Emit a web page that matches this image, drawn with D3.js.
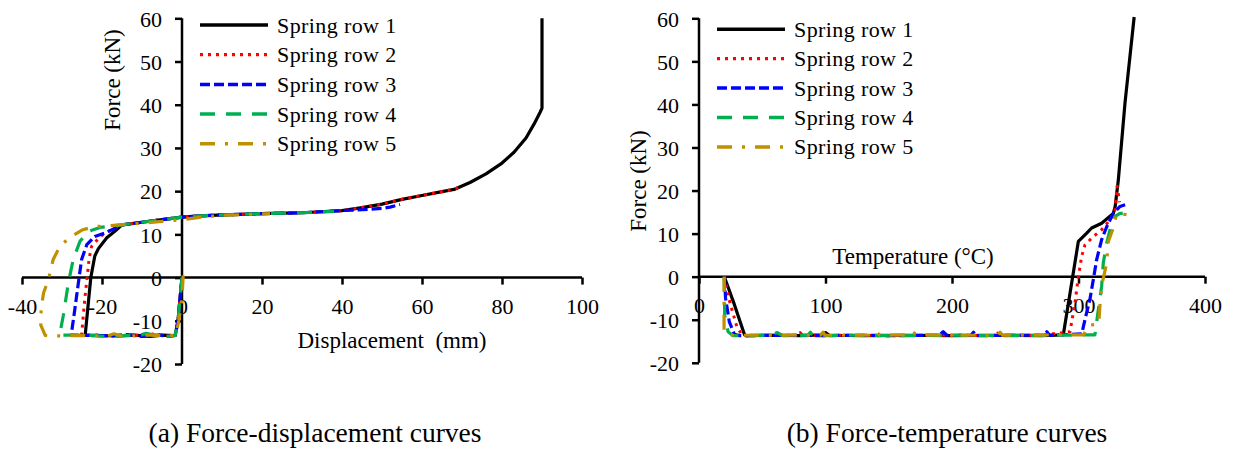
<!DOCTYPE html>
<html>
<head>
<meta charset="utf-8">
<script src="https://cdn.jsdelivr.net/npm/d3@7"></script>
<style>
  html, body { margin: 0; padding: 0; background: #fff; }
  svg { display: block; font-family: "Liberation Serif", "Times New Roman", serif; }
</style>
</head>
<body>
<svg id="chart" width="1236" height="449"></svg>
<script>
// ---------- data ----------
const seriesNames = ["Spring row 1", "Spring row 2", "Spring row 3", "Spring row 4", "Spring row 5"];

// (a) force-displacement: [displacement (mm), force (kN)]
const dispRow1 = [[0,0],[-0.5,-5],[-1,-10],[-1.7,-13.4],[-5,-13.3],[-8,-13.6],[-12,-13.3],[-16,-13.5],[-20,-13.4],[-24.2,-13.3],
  [-22.8,0],[-21.8,5],[-20.9,6.7],[-18.8,9.2],[-16.8,10.7],[-15,12.2],[-10,12.8],[-5,13.4],[0,14.0],[5,14.3],[10,14.5],[20,14.8],
  [30,15.0],[40,15.5],[45,16.2],[50,17.0],[55,18.1],[60,19.0],[65,19.9],[68,20.4],[72,22],[76,24],[80,26.5],[83,29],[86,32.3],
  [88,35.5],[89.5,38.2],[90,39.2],[90,60]];
const dispRow2 = [[0,0],[-0.5,-5],[-1,-10],[-1.7,-13.4],[-4,-13.5],[-7,-13.0],[-9,-13.5],[-13,-13.3],[-17,-13.6],[-21,-13.3],[-25.1,-13.3],
  [-24.6,-8],[-24.2,-4],[-23.6,1],[-23.2,4.5],[-22.6,7.2],[-20.5,9.5],[-18.4,10.7],[-16,11.9],[-15,12.2],[-10,12.8],[-5,13.4],
  [0,14.0],[5,14.3],[10,14.5],[20,14.8],[30,15.0],[40,15.5],[45,16.2],[50,17.0],[55,18.1],[60,19.0],[65,19.9],[68,20.4],[69.5,21.1]];
const dispRow3 = [[0,0],[-0.5,-5],[-1,-10],[-1.7,-13.4],[-3,-13.6],[-6,-13.3],[-10,-13.6],[-14,-13.2],[-18,-13.5],[-23,-13.4],[-27.7,-13.3],
  [-26.8,-7.4],[-25.9,-1.2],[-25.1,4.2],[-23.8,7.6],[-21.8,9.5],[-19.3,10.3],[-17,11.3],[-15,12.2],[-10,12.8],[-5,13.4],
  [0,14.0],[5,14.3],[10,14.5],[20,14.8],[30,15.0],[40,15.5],[45,15.7],[50,16.0],[52,16.3],[54.5,16.9]];
const dispRow4 = [[0,0],[-0.5,-5],[-1,-10],[-1.7,-13.4],[-3.5,-13.6],[-6,-13.5],[-9,-12.9],[-11,-13.5],[-15,-13.4],[-19,-13.6],[-25,-13.3],[-30.6,-13.3],
  [-29.7,-8.9],[-28.4,-1.2],[-27.2,4.2],[-25.5,8.4],[-23.4,10.7],[-20.5,11.6],[-15,12.2],[-10,12.8],[-5,13.4],
  [0,14.0],[5,14.3],[10,14.5],[20,14.8],[30,15.0],[38,15.3]];
const dispRow5 = [[0.3,0.5],[0,-5],[-0.8,-10],[-1.6,-13.4],[-4,-13.5],[-8,-13.3],[-15,-13.6],[-17,-13.0],[-19,-13.6],[-25,-13.4],[-30,-13.5],[-34.2,-13.4],
  [-35.3,-11],[-35.2,-7],[-34.6,-3.5],[-33.4,-0.5],[-32.2,4.2],[-30.5,7.3],[-28,9.3],[-25,11],[-22,11.8],[-18,12.0],[-10,12.6],
  [-5,13.0],[0,13.4],[5,14.0],[10,14.4],[16,14.6],[22,14.8]];

// (b) force-temperature: [temperature (°C), force (kN)]
const tempRow1 = [[20,0],[28,-6.5],[36,-13.5],[38,-13.7],[60,-13.6],[80,-13.7],[97,-13.5],[100,-13.0],[103,-13.6],[130,-13.7],
  [160,-13.6],[200,-13.7],[240,-13.6],[270,-13.7],[288,-13.5],[299.9,8.2],[306.5,10.1],[310.4,11.3],[318.3,12.4],[327.5,14.7],
  [329,16.3],[331.5,22.5],[336.8,40.5],[344,60.3]];
const tempRow2 = [[20,0],[24.5,-6.1],[29.8,-11.5],[33.7,-13.4],[36,-13.7],[60,-13.6],[78,-13.6],[80,-13.0],[82,-13.7],[120,-13.6],
  [150,-13.7],[200,-13.6],[234,-13.7],[236,-13.1],[238,-13.7],[270,-13.6],[293.3,-12.8],[297.2,-6.1],[299.9,0],[302.5,4.7],
  [305.1,7.4],[311.7,9.3],[318.3,10.9],[324.9,13.2],[328.9,15.5],[330.5,21],[332.5,17.3]];
const tempRow3 = [[20,0],[21,-5],[24,-10.5],[28,-13.4],[32,-13.7],[70,-13.6],[100,-13.7],[120,-13.6],[150,-13.7],[190,-13.6],
  [193,-12.8],[196,-13.6],[215,-13.6],[217,-12.9],[219,-13.7],[250,-13.6],[273,-13.6],[275,-12.8],[277,-13.6],[302.5,-13.3],
  [305.1,-10],[309,-5.3],[311.7,-0.7],[314.3,3.9],[318.3,8.6],[322.3,11.6],[327.5,14.7],[332.8,16.3],[338,16.8]];
const tempRow4 = [[20,0],[20.3,-9],[23,-12.8],[27,-13.7],[55,-13.6],[62,-13.0],[66,-13.7],[86,-13.6],[88,-12.9],[90,-13.7],
  [120,-13.6],[160,-13.7],[200,-13.6],[240,-13.7],[280,-13.6],[313,-13.5],[315.7,-7.6],[318.3,-2.2],[319.6,3.2],[322.3,7.8],
  [324.9,10.9],[328.9,14],[332.8,14.7],[335,14.7]];
const tempRow5 = [[19.8,0],[19.8,-12.7],[23,-13.6],[60,-13.6],[96,-13.6],[98,-12.9],[100,-13.6],[138,-13.6],[140,-12.8],[143,-13.6],
  [164,-13.5],[168,-12.6],[172,-13.5],[200,-13.6],[203,-12.8],[206,-13.6],[236,-13.6],[238,-12.9],[240,-13.6],[304,-13.5],
  [308,-11.3],[316,-11],[317,-6.5],[318.5,-1.9],[322.3,3.2],[323.6,8.2],[327.5,11.3],[330.2,14.7],[338,14.4]];

const forceTicks = [-20, -10, 0, 10, 20, 30, 40, 50, 60];
const dispTicks = [-40, -20, 0, 20, 40, 60, 80, 100];
const tempTicks = [0, 100, 200, 300, 400];

// ---------- styles ----------
const serif = "Liberation Serif, Times New Roman, serif";
const lineStyles = [
  { color: "#000000", dash: null,          width: 3.2 },
  { color: "#FF0000", dash: "3,5",         width: 3 },
  { color: "#0000FF", dash: "10,4",        width: 3.2 },
  { color: "#00B050", dash: "15,11",       width: 3.2 },
  { color: "#BF9000", dash: "15,10,3,10",  width: 3.2 }
];

const svg = d3.select("#chart");

function drawPanel(opts) {
  const { xDomain, xRange, yRange, xTicks, series, legendX, legendY, legendStep,
          xTitle, xTitlePos, yTitlePos, caption, captionX } = opts;
  const x = d3.scaleLinear().domain(xDomain).range(xRange);
  const y = d3.scaleLinear().domain([-20, 60]).range(yRange);
  const g = svg.append("g");
  const plain = d => String(d);   // ASCII hyphen for negatives

  // y axis on the x = 0 line
  const yAxis = g.append("g")
    .attr("transform", `translate(${x(0)},0)`)
    .call(d3.axisLeft(y).tickValues(forceTicks).tickSize(7).tickSizeOuter(0).tickFormat(plain));
  yAxis.attr("font-family", serif);
  yAxis.select(".domain").attr("stroke", "#000").attr("stroke-width", 2.5)
    .attr("d", `M0,${y(-20)}V${y(60)}`);
  yAxis.selectAll(".tick line").attr("stroke", "#000").attr("stroke-width", 2.5);
  yAxis.selectAll(".tick text").attr("x", -20).attr("dy", "0.35em")
    .attr("font-size", 22).attr("fill", "#000");

  // x axis on the force = 0 line
  const xAxis = g.append("g")
    .attr("transform", `translate(0,${y(0)})`)
    .call(d3.axisBottom(x).tickValues(xTicks).tickSize(7).tickSizeOuter(0).tickFormat(plain));
  xAxis.attr("font-family", serif);
  xAxis.select(".domain").attr("stroke", "#000").attr("stroke-width", 2.5)
    .attr("d", `M${x(xDomain[0])},0H${x(xDomain[1])}`);
  xAxis.selectAll(".tick line").attr("stroke", "#000").attr("stroke-width", 2.5);
  xAxis.selectAll(".tick text").attr("y", 36).attr("dy", null)
    .attr("font-size", 22).attr("fill", "#000");

  // curves
  const line = d3.line().x(d => x(d[0])).y(d => y(d[1]));
  series.forEach((data, i) => {
    const s = lineStyles[i];
    g.append("path")
      .datum(data)
      .attr("d", line)
      .attr("fill", "none")
      .attr("stroke", s.color)
      .attr("stroke-width", s.width)
      .attr("stroke-dasharray", s.dash)
      .attr("stroke-linejoin", "round");
  });

  // legend
  const leg = g.append("g");
  seriesNames.forEach((name, i) => {
    const s = lineStyles[i];
    const ly = legendY + i * legendStep;
    leg.append("line")
      .attr("x1", legendX).attr("x2", legendX + 68)
      .attr("y1", ly).attr("y2", ly)
      .attr("stroke", s.color).attr("stroke-width", s.width + 0.3)
      .attr("stroke-dasharray", s.dash);
    leg.append("text")
      .attr("x", legendX + 77).attr("y", ly + 7.5)
      .attr("font-size", 22).attr("letter-spacing", 0.4)
      .text(name);
  });

  // axis titles
  g.append("text")
    .attr("x", xTitlePos[0]).attr("y", xTitlePos[1])
    .attr("text-anchor", "middle").attr("font-size", 23)
    .style("white-space", "pre")
    .text(xTitle);
  g.append("text")
    .attr("transform", `translate(${yTitlePos[0]},${yTitlePos[1]}) rotate(-90)`)
    .attr("text-anchor", "middle").attr("font-size", 23)
    .text("Force (kN)");

  // panel caption
  svg.append("text")
    .attr("x", captionX).attr("y", 442)
    .attr("text-anchor", "middle").attr("font-size", 27.5)
    .text(caption);
}

drawPanel({
  xDomain: [-40, 100], xRange: [22, 582], yRange: [364, 18.3],
  xTicks: dispTicks,
  series: [dispRow1, dispRow2, dispRow3, dispRow4, dispRow5],
  legendX: 200, legendY: 25, legendStep: 29.7,
  xTitle: "Displacement  (mm)", xTitlePos: [392, 348],
  yTitlePos: [120, 80],
  caption: "(a) Force-displacement curves", captionX: 315
});

drawPanel({
  xDomain: [0, 400], xRange: [699, 1205], yRange: [362.8, 18.3],
  xTicks: tempTicks,
  series: [tempRow1, tempRow2, tempRow3, tempRow4, tempRow5],
  legendX: 717, legendY: 29.3, legendStep: 29.4,
  xTitle: "Temperature (°C)", xTitlePos: [913, 264],
  yTitlePos: [646, 181],
  caption: "(b) Force-temperature curves", captionX: 947
});
</script>
</body>
</html>
